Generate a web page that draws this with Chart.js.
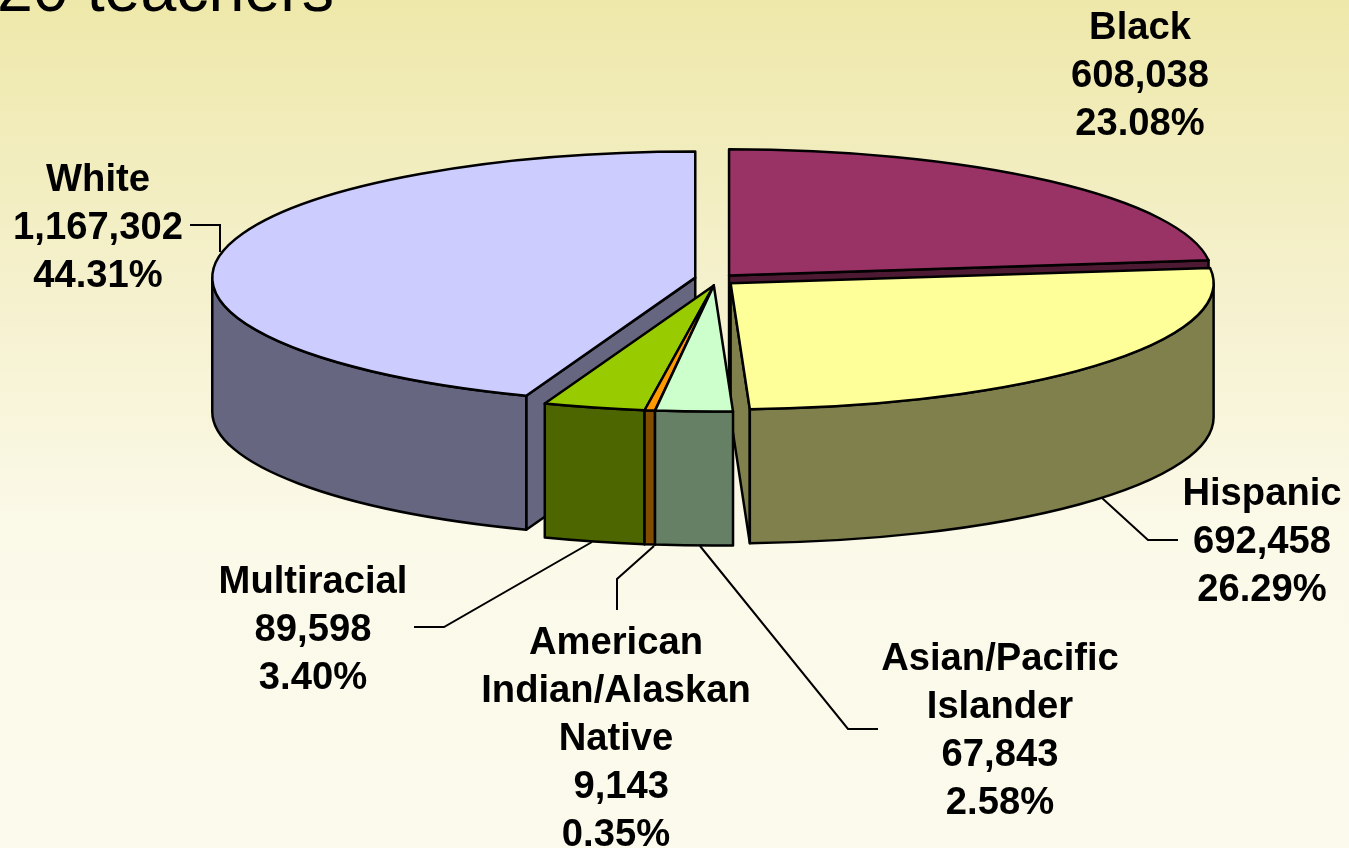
<!DOCTYPE html>
<html>
<head>
<meta charset="utf-8">
<title>20 teachers</title>
<script src="https://cdn.jsdelivr.net/npm/chart.js@4/dist/chart.umd.js"></script>
<style>
  html, body { margin: 0; height: 100%; overflow: hidden; }
  body { background: linear-gradient(180deg, #eee8aa 0%, #f5f1ce 35%, #fbf9e8 62%, #fcfaec 100%); }
  canvas { display: block; }
</style>
</head>
<body>
<canvas id="pie" width="1349" height="848"></canvas>
<script>
// clockwise from 12 o'clock
const categories = ['Black', 'Hispanic', 'Asian/Pacific Islander', 'American Indian/Alaskan Native', 'Multiracial', 'White'];
const teacherCounts = [608038, 692458, 67843, 9143, 89598, 1167302];
const categoryLines = [['Black'], ['Hispanic'], ['Asian/Pacific', 'Islander'], ['American', 'Indian/Alaskan', 'Native'], ['Multiracial'], ['White']];
const topColors = ['#993366', '#ffff99', '#ccffcc', '#ff9900', '#99cc00', '#ccccff'];
const wallColors = ['#4d1933', '#80804d', '#668066', '#804d00', '#4d6600', '#666680'];
// the three small slices are pulled out together, straight down
const explodeDeg = [-48, 42, 93, 93, 93, 200];
const explodePx = [21, 21, 23, 23, 23, 21];

const SQUASH = 0.261;
const DEPTH = 134;
const LINE_HEIGHT = 48;
const LABEL_FONT = 'bold 38.2px "Liberation Sans", Arial, sans-serif';

// center x / first line y of each label, then its leader line
const labelLayout = [
  { x: 1140, y: 28, leader: null },
  { x: 1262, y: 494, leader: [[1102, 498], [1148, 540], [1178, 540]] },
  { x: 1000, y: 659, leader: [[700, 546], [848, 729], [878, 729]] },
  { x: 616, y: 643, valuePrefix: ' ', leader: [[654, 546], [617, 579], [617, 610]] },
  { x: 313, y: 582, leader: [[592, 542], [444, 627], [414, 627]] },
  { x: 98, y: 180, leader: [[190, 225], [220, 225], [220, 252]] },
];

const labelLines = (i) => {
  const total = teacherCounts.reduce((a, b) => a + b, 0);
  return [
    ...categoryLines[i],
    (labelLayout[i].valuePrefix || '') + teacherCounts[i].toLocaleString('en-US'),
    `${(teacherCounts[i] / total * 100).toFixed(2)}%`,
  ];
};

function drawSlice(ctx, arcs, i) {
  const arc = arcs[i];
  const { x, y, startAngle: a0, endAngle: a1, outerRadius: r } = arc;
  const dir = explodeDeg[i] * Math.PI / 180;
  const ox = x + Math.cos(dir) * explodePx[i];
  const oy = y + Math.sin(dir) * explodePx[i] * SQUASH;
  const rim = (t) => [ox + r * Math.cos(t), oy + r * SQUASH * Math.sin(t)];

  ctx.lineWidth = 2.5;
  ctx.lineJoin = 'round';
  ctx.strokeStyle = '#000';
  ctx.fillStyle = wallColors[i];

  // flat cut faces, only the ones turned towards the viewer
  const cutFace = (t) => {
    const [px, py] = rim(t);
    ctx.beginPath();
    ctx.moveTo(ox, oy);
    ctx.lineTo(px, py);
    ctx.lineTo(px, py + DEPTH);
    ctx.lineTo(ox, oy + DEPTH);
    ctx.closePath();
    ctx.fill();
    ctx.stroke();
  };
  if (Math.cos(a1) > 0) cutFace(a1);
  if (Math.cos(a0) < 0) cutFace(a0);

  // rounded outer wall, front half only
  const from = Math.max(a0, 0);
  const to = Math.min(a1, Math.PI);
  if (to > from) {
    ctx.beginPath();
    ctx.ellipse(ox, oy, r, r * SQUASH, 0, from, to);
    ctx.ellipse(ox, oy + DEPTH, r, r * SQUASH, 0, to, from, true);
    ctx.closePath();
    ctx.fill();
    ctx.stroke();
  }

  // top face is the library's own arc, flattened
  ctx.save();
  ctx.translate(ox, oy);
  ctx.scale(1, SQUASH);
  ctx.translate(-x, -y);
  arc.draw(ctx);
  ctx.restore();

  // outline after the transform so the line keeps its width
  ctx.beginPath();
  ctx.moveTo(ox, oy);
  ctx.ellipse(ox, oy, r, r * SQUASH, 0, a0, a1);
  ctx.closePath();
  ctx.stroke();
}

const pie3d = {
  id: 'pie3d',
  beforeDatasetsDraw(chart) {
    const { ctx } = chart;
    const arcs = chart.getDatasetMeta(0).data;
    // back to front
    const order = arcs.map((_, i) => i).sort((p, q) => {
      const mid = (k) => Math.sin((arcs[k].startAngle + arcs[k].endAngle) / 2);
      return mid(p) - mid(q);
    });
    ctx.save();
    order.forEach((i) => drawSlice(ctx, arcs, i));
    ctx.restore();
    return false;
  },
  afterDraw(chart) {
    const { ctx } = chart;
    ctx.save();
    ctx.fillStyle = '#000';
    ctx.textBaseline = 'alphabetic';
    ctx.textAlign = 'left';
    ctx.font = '64.5px "Liberation Sans", Arial, sans-serif';
    ctx.fillText('20 teachers', -3, 11);

    ctx.textAlign = 'center';
    ctx.textBaseline = 'middle';
    ctx.font = LABEL_FONT;
    labelLayout.forEach((label, i) => {
      labelLines(i).forEach((line, n) => {
        ctx.fillText(line, label.x, label.y + n * LINE_HEIGHT);
      });
      if (label.leader) {
        ctx.beginPath();
        label.leader.forEach(([px, py], n) => (n ? ctx.lineTo(px, py) : ctx.moveTo(px, py)));
        ctx.lineWidth = 2;
        ctx.strokeStyle = '#000';
        ctx.stroke();
      }
    });
    ctx.restore();
  },
};

new Chart(document.getElementById('pie').getContext('2d'), {
  type: 'pie',
  data: {
    labels: categories,
    datasets: [{
      data: teacherCounts,
      backgroundColor: topColors,
      borderWidth: 0,
      radius: 483,
    }],
  },
  options: {
    responsive: false,
    animation: false,
    layout: { padding: { left: 81, bottom: 289 } },
    plugins: { legend: { display: false }, tooltip: { enabled: false } },
  },
  plugins: [pie3d],
});
</script>
</body>
</html>
